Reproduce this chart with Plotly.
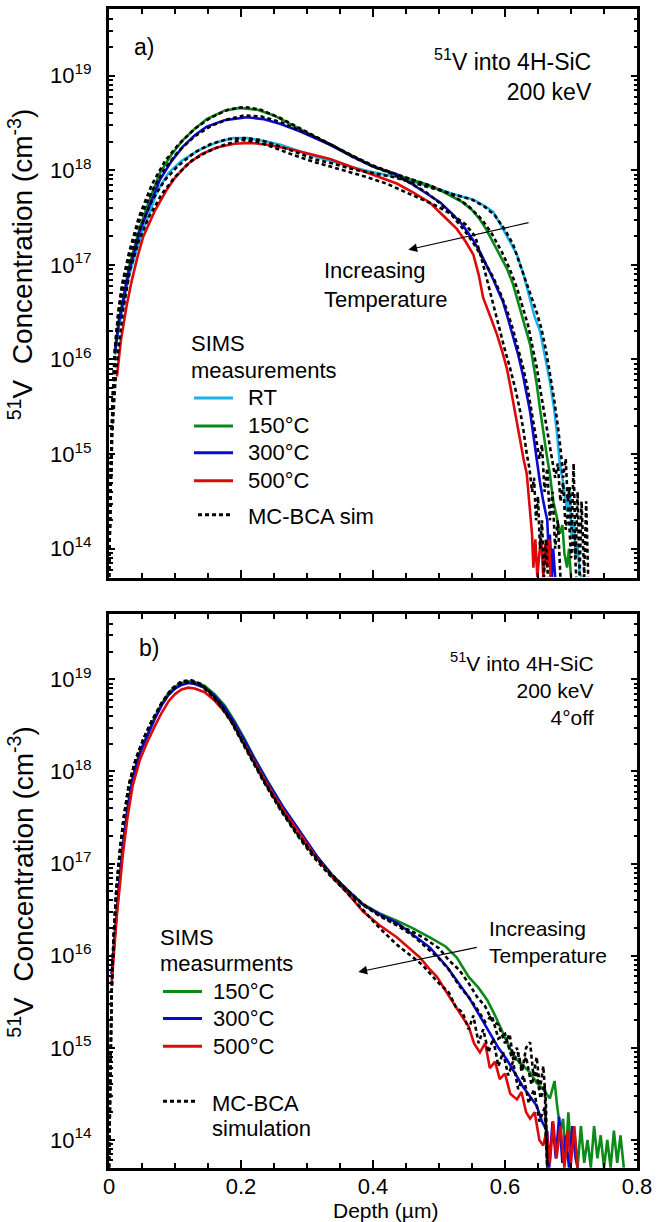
import plotly.graph_objects as go

FONT = "Liberation Sans, Arial, Helvetica, sans-serif"

# ---------------- Panel a) : depth (um) and log10 concentration (cm^-3) ----------------
a_rt_depth = [0.009, 0.015, 0.021, 0.03, 0.04, 0.05, 0.06, 0.073, 0.09, 0.11, 0.138, 0.165, 0.188, 0.21,
              0.235, 0.26, 0.29, 0.31, 0.335, 0.37, 0.40, 0.436, 0.47, 0.50, 0.525, 0.552, 0.57, 0.582,
              0.597, 0.608, 0.618, 0.628, 0.638, 0.645, 0.653, 0.660, 0.668, 0.674, 0.679, 0.683, 0.688,
              0.694, 0.698, 0.701, 0.704, 0.707, 0.710, 0.713, 0.716]
a_rt_log = [16.05, 16.35, 16.55, 16.88, 17.12, 17.35, 17.52, 17.78, 17.97, 18.1, 18.22, 18.3, 18.34, 18.34,
            18.31, 18.27, 18.2, 18.15, 18.1, 18.03, 17.98, 17.93, 17.86, 17.8, 17.74, 17.69, 17.62, 17.56,
            17.38, 17.24, 17.11, 16.9, 16.63, 16.45, 16.3, 16.05, 15.77, 15.5, 15.21, 14.9, 14.7,
            14.4, 14.6, 14.1, 14.3, 13.9, 14.05, 13.75, 13.7]

a_150_depth = [0.009, 0.015, 0.021, 0.03, 0.04, 0.047, 0.06, 0.077, 0.095, 0.112, 0.13, 0.148, 0.175, 0.198,
               0.225, 0.25, 0.28, 0.31, 0.335, 0.37, 0.40, 0.436, 0.46, 0.486, 0.51, 0.536, 0.55, 0.562,
               0.572, 0.582, 0.593, 0.603, 0.612, 0.618, 0.625, 0.632, 0.638, 0.643, 0.648, 0.653, 0.658,
               0.663, 0.668, 0.673, 0.678, 0.683, 0.687, 0.690, 0.694, 0.697, 0.700]
a_150_log = [16.1, 16.42, 16.62, 16.97, 17.22, 17.4, 17.66, 17.97, 18.17, 18.32, 18.44, 18.54, 18.63, 18.66,
             18.64, 18.58, 18.47, 18.36, 18.27, 18.15, 18.04, 17.95, 17.9, 17.84, 17.76, 17.66, 17.58, 17.48,
             17.37, 17.24, 17.1, 16.96, 16.8, 16.65, 16.5, 16.3, 16.16, 15.95, 15.74, 15.48, 15.21,
             15.0, 14.79, 14.5, 14.35, 14.16, 14.25, 13.95, 13.8, 14.0, 13.7]

a_300_depth = [0.009, 0.015, 0.021, 0.03, 0.04, 0.047, 0.06, 0.077, 0.095, 0.112, 0.13, 0.148, 0.175, 0.209,
               0.235, 0.26, 0.29, 0.31, 0.335, 0.37, 0.40, 0.436, 0.461, 0.48, 0.502, 0.52, 0.536, 0.55,
               0.562, 0.572, 0.582, 0.59, 0.597, 0.605, 0.612, 0.62, 0.627, 0.633, 0.638, 0.643, 0.648,
               0.653, 0.658, 0.664, 0.666, 0.668, 0.671, 0.673, 0.676]
a_300_log = [16.08, 16.4, 16.6, 16.93, 17.18, 17.36, 17.6, 17.9, 18.1, 18.25, 18.37, 18.46, 18.53, 18.56,
             18.54, 18.49, 18.41, 18.35, 18.27, 18.14, 18.04, 17.96, 17.85, 17.76, 17.66, 17.54, 17.42, 17.28,
             17.14, 17.0, 16.85, 16.72, 16.61, 16.42, 16.26, 16.05, 15.84, 15.62, 15.45, 15.2, 14.93,
             14.7, 14.5, 14.3, 14.0, 14.15, 13.7, 14.0, 13.7]

a_500_depth = [0.012, 0.018, 0.027, 0.035, 0.043, 0.052, 0.07, 0.088, 0.10, 0.118, 0.14, 0.163, 0.19, 0.214,
               0.24, 0.27, 0.30, 0.335, 0.37, 0.40, 0.436, 0.46, 0.486, 0.505, 0.527, 0.54, 0.552, 0.56,
               0.567, 0.578, 0.588, 0.596, 0.603, 0.608, 0.612, 0.618, 0.623, 0.628, 0.633, 0.636, 0.638,
               0.641, 0.643, 0.646, 0.649, 0.652, 0.655, 0.658, 0.661, 0.664, 0.667, 0.669]
a_500_log = [15.82, 16.2, 16.58, 16.85, 17.08, 17.3, 17.58, 17.8, 17.92, 18.06, 18.17, 18.24, 18.28, 18.29,
             18.27, 18.23, 18.18, 18.12, 18.03, 17.95, 17.86, 17.77, 17.66, 17.53, 17.38, 17.25, 17.11, 16.9,
             16.65, 16.45, 16.26, 16.08, 15.9, 15.72, 15.56, 15.35, 15.14, 14.95, 14.79, 14.55, 14.43,
             14.15, 13.8, 14.1, 13.7, 13.95, 14.1, 13.7, 14.05, 13.8, 14.1, 13.7]

# MC-BCA simulations, panel a
a_sim_rt_depth = [0.0, 0.002, 0.004, 0.006, 0.009, 0.014, 0.02, 0.03, 0.045, 0.065, 0.085, 0.105, 0.13, 0.155,
                  0.18, 0.205, 0.23, 0.26, 0.29, 0.315, 0.34, 0.37, 0.40, 0.43, 0.46, 0.49, 0.52, 0.55, 0.57,
                  0.585, 0.60, 0.612, 0.622, 0.632, 0.64, 0.648, 0.655, 0.662, 0.668, 0.674, 0.68, 0.685,
                  0.688, 0.692, 0.695, 0.698, 0.701, 0.704, 0.707, 0.71, 0.713, 0.716, 0.72, 0.723, 0.726]
a_sim_rt_log = [13.7, 14.6, 15.2, 15.6, 16.05, 16.4, 16.7, 17.0, 17.35, 17.68, 17.9, 18.05, 18.19, 18.28,
                18.33, 18.34, 18.32, 18.25, 18.17, 18.11, 18.07, 18.01, 17.97, 17.93, 17.87, 17.81, 17.75, 17.69, 17.61,
                17.52, 17.37, 17.22, 17.02, 16.82, 16.64, 16.5, 16.33, 16.1, 15.85, 15.6, 15.3, 15.0,
                14.75, 14.95, 14.5, 14.65, 14.2, 14.9, 13.9, 14.6, 13.7, 14.5, 13.7, 14.5, 13.7]

a_sim_150_depth = [0.0, 0.002, 0.004, 0.006, 0.009, 0.014, 0.02, 0.03, 0.045, 0.065, 0.085, 0.105, 0.13, 0.155,
                   0.18, 0.205, 0.23, 0.26, 0.29, 0.315, 0.34, 0.37, 0.40, 0.43, 0.46, 0.49, 0.52, 0.545, 0.565,
                   0.58, 0.595, 0.607, 0.618, 0.627, 0.635, 0.642, 0.648, 0.654, 0.66, 0.666, 0.671, 0.676,
                   0.68, 0.684, 0.688, 0.692, 0.696, 0.70, 0.704, 0.708]
a_sim_150_log = [13.7, 14.6, 15.2, 15.65, 16.12, 16.5, 16.8, 17.12, 17.5, 17.85, 18.1, 18.27, 18.44, 18.56,
                 18.64, 18.67, 18.64, 18.55, 18.44, 18.35, 18.26, 18.15, 18.05, 17.97, 17.9, 17.83, 17.74, 17.62, 17.48,
                 17.33, 17.14, 16.96, 16.76, 16.56, 16.36, 16.12, 15.92, 15.66, 15.4, 15.15, 14.95, 14.75,
                 14.9, 14.5, 14.7, 14.2, 14.45, 13.9, 14.2, 13.7]

a_sim_300_depth = [0.0, 0.002, 0.004, 0.006, 0.009, 0.014, 0.02, 0.03, 0.045, 0.065, 0.085, 0.105, 0.13, 0.155,
                   0.18, 0.205, 0.23, 0.26, 0.29, 0.315, 0.34, 0.37, 0.40, 0.43, 0.455, 0.48, 0.50, 0.52, 0.54,
                   0.555, 0.57, 0.582, 0.593, 0.603, 0.612, 0.62, 0.628, 0.635, 0.641, 0.647, 0.652, 0.656,
                   0.66, 0.664, 0.668, 0.672, 0.676, 0.68, 0.684]
a_sim_300_log = [13.7, 14.6, 15.2, 15.65, 16.1, 16.48, 16.78, 17.08, 17.45, 17.78, 18.02, 18.2, 18.36, 18.47,
                 18.54, 18.58, 18.57, 18.51, 18.42, 18.34, 18.26, 18.14, 18.04, 17.96, 17.87, 17.77, 17.66, 17.52, 17.35,
                 17.2, 17.02, 16.87, 16.7, 16.52, 16.32, 16.12, 15.9, 15.67, 15.44, 15.17, 14.95, 15.1,
                 14.6, 14.85, 14.3, 14.6, 14.0, 14.3, 13.7]

a_sim_500_depth = [0.0, 0.002, 0.005, 0.009, 0.014, 0.022, 0.032, 0.045, 0.06, 0.08, 0.10, 0.125, 0.15, 0.175,
                   0.2, 0.225, 0.25, 0.28, 0.31, 0.335, 0.36, 0.39, 0.42, 0.45, 0.475, 0.50, 0.52, 0.54,
                   0.555, 0.567, 0.578, 0.588, 0.598, 0.608, 0.616, 0.623, 0.628, 0.633, 0.637, 0.641, 0.644,
                   0.647, 0.65, 0.653, 0.656, 0.659, 0.662, 0.665]
a_sim_500_log = [13.7, 14.5, 15.2, 15.7, 16.1, 16.55, 16.95, 17.25, 17.5, 17.75, 17.93, 18.1, 18.2, 18.27,
                 18.32, 18.3, 18.24, 18.16, 18.09, 18.04, 17.99, 17.93, 17.86, 17.77, 17.69, 17.61, 17.53, 17.43,
                 17.3, 17.0, 16.7, 16.4, 16.15, 15.9, 15.68, 15.45, 15.25, 15.0, 14.85, 14.6, 14.75,
                 14.3, 14.55, 14.0, 14.3, 13.7, 14.1, 13.7]

# ---------------- Panel b) : 4 deg off-axis ----------------
b_150_depth = [0.004, 0.008, 0.012, 0.017, 0.021, 0.028, 0.036, 0.047, 0.058, 0.07, 0.08, 0.09, 0.1, 0.11,
               0.12, 0.13, 0.145, 0.16, 0.175, 0.19, 0.205, 0.22, 0.24, 0.265, 0.29, 0.315, 0.34, 0.36,
               0.385, 0.41, 0.436, 0.46, 0.486, 0.51, 0.527, 0.545, 0.56, 0.573, 0.585, 0.597, 0.607,
               0.618, 0.628, 0.638, 0.648, 0.658, 0.668, 0.675, 0.679, 0.684, 0.688, 0.692, 0.696, 0.70,
               0.705, 0.71, 0.715, 0.72, 0.725, 0.73, 0.735, 0.74, 0.745, 0.75, 0.755, 0.76, 0.765, 0.77,
               0.775, 0.78]
b_150_log = [15.8, 16.2, 16.5, 16.9, 17.2, 17.6, 17.95, 18.22, 18.4, 18.6, 18.74, 18.85, 18.92, 18.96,
             18.98, 18.97, 18.93, 18.84, 18.72, 18.55, 18.36, 18.15, 17.9, 17.6, 17.34, 17.08, 16.86, 16.72,
             16.56, 16.46, 16.38, 16.3, 16.2, 16.1, 15.98, 15.77, 15.65, 15.52, 15.35, 15.16, 15.0,
             14.87, 14.8, 14.73, 14.62, 14.55, 14.45, 14.64, 14.37, 14.1, 14.23, 13.8, 14.3, 13.85,
             14.1, 13.7, 14.15, 13.75, 14.0, 13.7, 14.15, 13.8, 14.05, 13.7, 14.0, 13.7, 14.1, 13.75,
             14.05, 13.7]

b_300_depth = [0.004, 0.008, 0.012, 0.017, 0.021, 0.028, 0.036, 0.047, 0.058, 0.07, 0.08, 0.09, 0.1, 0.11,
               0.12, 0.13, 0.145, 0.16, 0.175, 0.19, 0.205, 0.22, 0.24, 0.265, 0.29, 0.315, 0.34, 0.36,
               0.385, 0.41, 0.436, 0.46, 0.486, 0.512, 0.53, 0.545, 0.56, 0.577, 0.59, 0.603, 0.615,
               0.627, 0.638, 0.648, 0.656, 0.664, 0.667, 0.672, 0.677, 0.682, 0.687, 0.692, 0.697, 0.702,
               0.707, 0.71]
b_300_log = [15.8, 16.2, 16.5, 16.88, 17.18, 17.58, 17.93, 18.2, 18.38, 18.58, 18.72, 18.83, 18.9, 18.94,
             18.96, 18.95, 18.91, 18.82, 18.7, 18.53, 18.34, 18.14, 17.89, 17.6, 17.34, 17.08, 16.86, 16.72,
             16.55, 16.45, 16.36, 16.23, 16.09, 15.88, 15.7, 15.55, 15.37, 15.16, 15.0, 14.87, 14.72,
             14.58, 14.47, 14.37, 14.2, 14.09, 13.7, 14.2, 13.8, 14.25, 13.75, 14.05, 13.7, 14.15,
             13.8, 13.7]

b_500_depth = [0.004, 0.008, 0.012, 0.017, 0.021, 0.028, 0.036, 0.047, 0.058, 0.07, 0.08, 0.09, 0.1, 0.11,
               0.12, 0.13, 0.145, 0.16, 0.175, 0.19, 0.205, 0.22, 0.24, 0.265, 0.29, 0.315, 0.34, 0.36,
               0.385, 0.41, 0.436, 0.455, 0.471, 0.485, 0.497, 0.51, 0.521, 0.533, 0.545, 0.553, 0.562,
               0.57, 0.577, 0.585, 0.592, 0.60, 0.608, 0.618, 0.625, 0.632, 0.638, 0.645, 0.652, 0.658,
               0.663, 0.668, 0.673, 0.678, 0.684, 0.69, 0.695, 0.70, 0.705, 0.71]
b_500_log = [15.7, 16.1, 16.45, 16.8, 17.1, 17.5, 17.85, 18.13, 18.32, 18.5, 18.64, 18.76, 18.84, 18.89,
             18.91, 18.9, 18.86, 18.77, 18.65, 18.49, 18.3, 18.1, 17.86, 17.57, 17.31, 17.06, 16.84, 16.69,
             16.48, 16.33, 16.2, 16.08, 15.98, 15.86, 15.77, 15.62, 15.49, 15.36, 15.23, 15.05, 14.95,
             15.05, 14.78, 14.85, 14.66, 14.72, 14.5, 14.44, 14.52, 14.3, 14.23, 14.3, 14.0, 13.94,
             14.1, 13.75, 14.2, 13.8, 14.15, 13.7, 14.1, 13.75, 14.15, 13.7]

# MC-BCA simulations, panel b
b_sim_150_depth = [0.0, 0.002, 0.004, 0.007, 0.011, 0.016, 0.022, 0.03, 0.04, 0.052, 0.065, 0.08, 0.095, 0.11,
                   0.125, 0.14, 0.155, 0.17, 0.185, 0.2, 0.215, 0.235, 0.26, 0.285, 0.31, 0.335, 0.36, 0.385,
                   0.41, 0.436, 0.46, 0.48, 0.5, 0.515, 0.53, 0.545, 0.558, 0.57, 0.58, 0.59, 0.6, 0.607,
                   0.613, 0.62, 0.626, 0.632, 0.638, 0.643, 0.648, 0.653, 0.658, 0.662, 0.664]
b_sim_150_log = [13.7, 14.8, 15.6, 16.2, 16.7, 17.1, 17.48, 17.85, 18.12, 18.35, 18.55, 18.75, 18.9, 18.98,
                 18.99, 18.95, 18.85, 18.72, 18.56, 18.36, 18.16, 17.9, 17.6, 17.33, 17.1, 16.9, 16.72, 16.56,
                 16.44, 16.34, 16.26, 16.18, 16.08, 15.95, 15.85, 15.7, 15.55, 15.45, 15.3, 15.25, 15.05, 15.15,
                 14.85, 14.95, 14.75, 15.0, 15.06, 14.7, 14.9, 14.55, 14.8, 14.4, 13.7]

b_sim_300_depth = [0.0, 0.002, 0.004, 0.007, 0.011, 0.016, 0.022, 0.03, 0.04, 0.052, 0.065, 0.08, 0.095, 0.11,
                   0.125, 0.14, 0.155, 0.17, 0.185, 0.2, 0.215, 0.235, 0.26, 0.285, 0.31, 0.335, 0.36, 0.385,
                   0.41, 0.436, 0.46, 0.48, 0.5, 0.515, 0.53, 0.545, 0.558, 0.57, 0.58, 0.59, 0.6, 0.61,
                   0.618, 0.625, 0.632, 0.64, 0.647, 0.654, 0.66, 0.664]
b_sim_300_log = [13.7, 14.8, 15.6, 16.2, 16.7, 17.1, 17.48, 17.85, 18.12, 18.35, 18.55, 18.74, 18.89, 18.97,
                 18.98, 18.94, 18.84, 18.71, 18.55, 18.35, 18.15, 17.89, 17.59, 17.32, 17.09, 16.89, 16.71, 16.55,
                 16.43, 16.33, 16.22, 16.1, 15.97, 15.85, 15.68, 15.55, 15.42, 15.28, 15.35, 15.1, 15.15, 14.9,
                 15.0, 14.75, 14.9, 14.6, 14.75, 14.45, 14.6, 13.7]

b_sim_500_depth = [0.0, 0.002, 0.004, 0.007, 0.011, 0.016, 0.022, 0.03, 0.04, 0.052, 0.065, 0.08, 0.095, 0.11,
                   0.125, 0.14, 0.155, 0.17, 0.185, 0.2, 0.215, 0.235, 0.26, 0.285, 0.31, 0.335, 0.36, 0.385,
                   0.41, 0.436, 0.46, 0.475, 0.486, 0.5, 0.515, 0.525, 0.536, 0.545, 0.552, 0.56, 0.567, 0.575,
                   0.582, 0.59, 0.597, 0.605, 0.612, 0.62, 0.628, 0.636, 0.644, 0.652, 0.66, 0.664]
b_sim_500_log = [13.7, 14.8, 15.6, 16.2, 16.7, 17.1, 17.48, 17.85, 18.12, 18.35, 18.55, 18.74, 18.88, 18.96,
                 18.97, 18.93, 18.83, 18.7, 18.54, 18.34, 18.14, 17.88, 17.58, 17.31, 17.07, 16.87, 16.69, 16.5,
                 16.3, 16.12, 15.98, 15.9, 15.81, 15.7, 15.6, 15.45, 15.38, 15.2, 15.35, 15.05, 15.2, 14.95,
                 15.1, 14.8, 14.95, 14.7, 14.85, 14.55, 14.7, 14.4, 14.55, 14.2, 14.35, 13.7]

# ---------------- Labels and colours ----------------
a_labels = ["RT", "150°C", "300°C", "500°C"]
b_labels = ["150°C", "300°C", "500°C"]
COLORS = {"RT": "#19b4ea", "150°C": "#0b8a1a", "300°C": "#0a0ad0", "500°C": "#dc0a0a"}
SIM_DASH = "4px,3px"

y_tick_vals = [1e14, 1e15, 1e16, 1e17, 1e18, 1e19]
y_tick_text = ["10<sup>14</sup>", "10<sup>15</sup>", "10<sup>16</sup>",
               "10<sup>17</sup>", "10<sup>18</sup>", "10<sup>19</sup>"]
x_tick_vals = [0, 0.2, 0.4, 0.6, 0.8]
x_tick_text = ["0", "0.2", "0.4", "0.6", "0.8"]


def conc(logs):
    return [10 ** v for v in logs]


fig = go.Figure()

# panel a: SIMS measurements
for lab, d, lg in zip(a_labels,
                      [a_rt_depth, a_150_depth, a_300_depth, a_500_depth],
                      [a_rt_log, a_150_log, a_300_log, a_500_log]):
    fig.add_trace(go.Scatter(x=d, y=conc(lg), mode="lines", name=lab, showlegend=False,
                             line=dict(color=COLORS[lab], width=2.6), xaxis="x", yaxis="y"))
# panel a: simulations
for d, lg in zip([a_sim_rt_depth, a_sim_150_depth, a_sim_300_depth, a_sim_500_depth],
                 [a_sim_rt_log, a_sim_150_log, a_sim_300_log, a_sim_500_log]):
    fig.add_trace(go.Scatter(x=d, y=conc(lg), mode="lines", name="MC-BCA sim", showlegend=False,
                             line=dict(color="black", width=2.6, dash=SIM_DASH), xaxis="x", yaxis="y"))

# panel b: SIMS measurements
for lab, d, lg in zip(b_labels,
                      [b_150_depth, b_300_depth, b_500_depth],
                      [b_150_log, b_300_log, b_500_log]):
    fig.add_trace(go.Scatter(x=d, y=conc(lg), mode="lines", name=lab, showlegend=False,
                             line=dict(color=COLORS[lab], width=2.6), xaxis="x2", yaxis="y2"))
# panel b: simulations
for d, lg in zip([b_sim_150_depth, b_sim_300_depth, b_sim_500_depth],
                 [b_sim_150_log, b_sim_300_log, b_sim_500_log]):
    fig.add_trace(go.Scatter(x=d, y=conc(lg), mode="lines", name="MC-BCA simulation", showlegend=False,
                             line=dict(color="black", width=2.6, dash=SIM_DASH), xaxis="x2", yaxis="y2"))

W, H = 667, 1222
ML, MR, MT, MB = 109, 30, 6, 54
PW, PH = W - ML - MR, H - MT - MB


def px_x(px):
    return (px - ML) / PW


def px_y(py):
    return (H - MB - py) / PH


axis_common = dict(showline=True, linewidth=3, linecolor="black", mirror="ticks",
                   showgrid=False, zeroline=False, ticks="inside", tickcolor="black")

x_common = dict(axis_common, range=[0, 0.8], tickvals=x_tick_vals, ticktext=x_tick_text,
                ticklen=8, tickwidth=2,
                minor=dict(ticks="inside", dtick=0.05, ticklen=5, tickwidth=1.5,
                           tickcolor="black", showgrid=False))
y_common = dict(axis_common, type="log", range=[13.695, 19.705], tickvals=y_tick_vals,
                ticktext=y_tick_text, ticklen=6, tickwidth=2, ticklabelstandoff=10,
                tickfont=dict(size=22, color="black"),
                minor=dict(ticks="inside", dtick="D1", ticklen=3.5, tickwidth=1.5,
                           tickcolor="black", showgrid=False))

top_dom = [px_y(576), 1.0]
bot_dom = [0.0, px_y(613)]

fig.update_layout(
    width=W, height=H,
    margin=dict(l=ML, r=MR, t=MT, b=MB, pad=0),
    paper_bgcolor="white", plot_bgcolor="white",
    font=dict(family=FONT, size=22, color="black"),
    xaxis=dict(x_common, domain=[0, 1], anchor="y", showticklabels=False),
    yaxis=dict(y_common, domain=top_dom, anchor="x"),
    xaxis2=dict(x_common, domain=[0, 1], anchor="y2", showticklabels=True, ticklabelstandoff=-3,
                tickfont=dict(size=22, color="black")),
    yaxis2=dict(y_common, domain=bot_dom, anchor="x2"),
    showlegend=False,
)

ann = []
shapes = []


def text_at(txt, xpx, ypx, size=22, anchor="left", align="left"):
    ann.append(dict(text=txt, xref="paper", yref="paper", x=px_x(xpx), y=px_y(ypx),
                    showarrow=False, font=dict(size=size), xanchor=anchor, yanchor="middle",
                    align=align))


def key_line(x0, x1, ypx, color, dash="solid"):
    shapes.append(dict(type="line", xref="paper", yref="paper",
                       x0=px_x(x0), x1=px_x(x1), y0=px_y(ypx), y1=px_y(ypx),
                       line=dict(color=color, width=3, dash=dash)))


# y-axis titles
ytitle = "<sup>51</sup>V  Concentration (cm<sup>-3</sup>)"
for yc in (262, 881):
    ann.append(dict(text=ytitle, xref="paper", yref="paper", x=px_x(21), y=px_y(yc),
                    textangle=-90, showarrow=False, font=dict(size=28),
                    xanchor="center", yanchor="middle"))
# x-axis title
text_at("Depth (µm)", 385, 1211, size=21, anchor="center")
# panel labels
text_at("a)", 132, 44, size=23)
text_at("b)", 137, 647, size=23)
# implant conditions
text_at("<sup>51</sup>V into 4H-SiC<br>200 keV", 594, 72, size=23, anchor="right", align="right")
text_at("<sup>51</sup>V into 4H-SiC<br>200 keV<br>4°off", 596, 688, size=21, anchor="right",
        align="right")

# key, panel a
text_at("SIMS", 189, 341)
text_at("measurements", 189, 368)
for lab, yk in zip(a_labels, [396, 424, 451, 479]):
    key_line(194, 233, yk, COLORS[lab])
    text_at(lab, 246, yk)
key_line(198, 233, 513, "black", SIM_DASH)
text_at("MC-BCA sim", 246, 515)

# key, panel b
text_at("SIMS", 158, 937)
text_at("measurments", 158, 963)
for lab, yk in zip(b_labels, [991, 1018, 1046]):
    key_line(163, 202, yk, COLORS[lab])
    text_at(lab, 211, yk)
key_line(163, 196, 1101, "black", SIM_DASH)
text_at("MC-BCA", 210, 1103)
text_at("simulation", 210, 1128)

# temperature arrows (log axes: y given as log10)
ann.append(dict(x=0.4535, y=17.16, ax=0.638, ay=17.45, xref="x", yref="y", axref="x", ayref="y",
                text="", showarrow=True, arrowhead=2, arrowsize=1.6, arrowwidth=1.1, arrowcolor="black"))
ann.append(dict(text="Increasing<br>Temperature", x=0.3225, y=16.79, xref="x", yref="y",
                showarrow=False, align="left", xanchor="left", yanchor="middle", font=dict(size=22)))
ann.append(dict(x=0.3778, y=15.824, ax=0.5596, ay=16.094, xref="x2", yref="y2", axref="x2", ayref="y2",
                text="", showarrow=True, arrowhead=2, arrowsize=1.6, arrowwidth=1.1, arrowcolor="black"))
ann.append(dict(text="Increasing<br>Temperature", x=0.5722, y=16.15, xref="x2", yref="y2",
                showarrow=False, align="left", xanchor="left", yanchor="middle", font=dict(size=21)))
fig.update_layout(annotations=ann, shapes=shapes)

fig.write_html("out.html")
